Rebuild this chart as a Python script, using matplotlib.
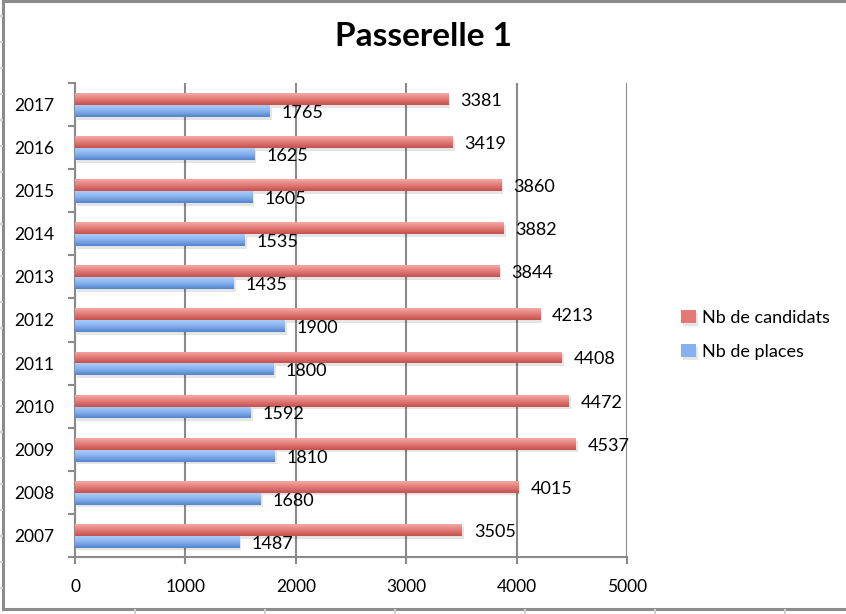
import numpy as np
import matplotlib
matplotlib.use("Agg")
import matplotlib.pyplot as plt
import matplotlib.patheffects as pe
from matplotlib.colors import LinearSegmentedColormap
from matplotlib.lines import Line2D

# data
YEARS      = ["2007", "2008", "2009", "2010", "2011", "2012",
              "2013", "2014", "2015", "2016", "2017"]
CANDIDATS  = [3505, 4015, 4537, 4472, 4408, 4213, 3844, 3882, 3860, 3419, 3381]
PLACES     = [1487, 1680, 1810, 1592, 1800, 1900, 1435, 1535, 1605, 1625, 1765]
XTICKS     = [0, 1000, 2000, 3000, 4000, 5000]

FONT = ["Lato", "DejaVu Sans"]
plt.rcParams["font.family"] = FONT

RED_CMAP  = LinearSegmentedColormap.from_list("red", ["#c4504c", "#e27a76", "#f4aaa6"])
BLUE_CMAP = LinearSegmentedColormap.from_list("blue", ["#5383cc", "#86b1ee", "#aacdfa"])
GRID_COL  = "#8a8a8a"

fig = plt.figure(figsize=(8.46, 6.14), dpi=100)
ax = fig.add_axes([75 / 846, 1 - 557 / 614, (627 - 75) / 846, (557 - 83) / 614])

y = np.arange(len(YEARS))
h = 0.276
grad = np.linspace(0, 1, 64).reshape(-1, 1)
shadow = [pe.SimplePatchShadow(offset=(1.5, -2), shadow_rgbFace="#000000", alpha=0.10), pe.Normal()]

bars_c = ax.barh(y + 0.13, CANDIDATS, height=h, color="#e27a76", zorder=3,
                 label="Nb de candidats", path_effects=shadow)
bars_p = ax.barh(y - 0.146, PLACES, height=h, color="#86b1ee", zorder=3,
                 label="Nb de places", path_effects=shadow)

# vertical gradient fill, clipped to each bar
for bars, cmap in [(bars_c, RED_CMAP), (bars_p, BLUE_CMAP)]:
    for b in bars:
        x0, y0 = b.get_x(), b.get_y()
        im = ax.imshow(grad, cmap=cmap, aspect="auto", origin="lower", zorder=4,
                       extent=[x0, x0 + b.get_width(), y0, y0 + b.get_height()])
        im.set_clip_path(b)

# value labels
for bars, vals in [(bars_c, CANDIDATS), (bars_p, PLACES)]:
    for b, v in zip(bars, vals):
        ax.annotate(str(v), (b.get_width(), b.get_y() + b.get_height() / 2),
                    xytext=(12, -2), textcoords="offset pixels",
                    ha="left", va="center", fontsize=13, color="black", zorder=5)

ax.set_xlim(0, 5000)
ax.set_ylim(-0.5, len(YEARS) - 0.5)
ax.set_xticks(XTICKS)
ax.set_xticklabels([str(t) for t in XTICKS], fontsize=12.5)
ax.set_yticks(y)
ax.set_yticklabels(YEARS, fontsize=12.5)
ax.set_yticks(np.arange(len(YEARS) + 1) - 0.5, minor=True)

ax.tick_params(axis="y", which="major", length=0, pad=15)
ax.tick_params(axis="y", which="minor", length=5, width=1.5, color=GRID_COL, direction="out")
ax.tick_params(axis="x", length=5, width=1.5, color=GRID_COL, direction="out", pad=11)

ax.grid(axis="x", color=GRID_COL, linewidth=1.5, zorder=1)
ax.set_axisbelow(True)
for side in ["top", "right"]:
    ax.spines[side].set_visible(False)
for side in ["left", "bottom"]:
    ax.spines[side].set_color(GRID_COL)
    ax.spines[side].set_linewidth(1.5)

fig.text(423 / 846, 1 - 37 / 614, "Passerelle 1", ha="center", va="center",
         fontsize=24, fontweight="bold")

fig.legend(handles=[bars_c, bars_p], loc="center left",
           bbox_to_anchor=(665 / 846, 1 - 335 / 614), frameon=False,
           fontsize=13, handlelength=0.8, handleheight=0.7, handletextpad=0.35,
           labelspacing=1.0)

# chart frame and spreadsheet hints around it
frame = dict(color="#8c8c8c", linewidth=2.2, transform=fig.transFigure)
fig.add_artist(Line2D([3 / 846, 3 / 846], [1 - 1 / 614, 1 - 609 / 614], **frame))
fig.add_artist(Line2D([3 / 846, 1], [1 - 1 / 614, 1 - 1 / 614], **frame))
fig.add_artist(Line2D([3 / 846, 1], [1 - 609 / 614, 1 - 609 / 614], **frame))
cell = dict(color="#d0d0d0", linewidth=1.5, transform=fig.transFigure)
for yy in np.arange(16, 600, 26):
    fig.add_artist(Line2D([0, 2 / 846], [1 - yy / 614, 1 - yy / 614], **cell))
for xx in np.arange(135, 846, 130):
    fig.add_artist(Line2D([xx / 846, xx / 846], [1 - 610 / 614, 0], **cell))

fig.savefig("out.png", dpi=100)
